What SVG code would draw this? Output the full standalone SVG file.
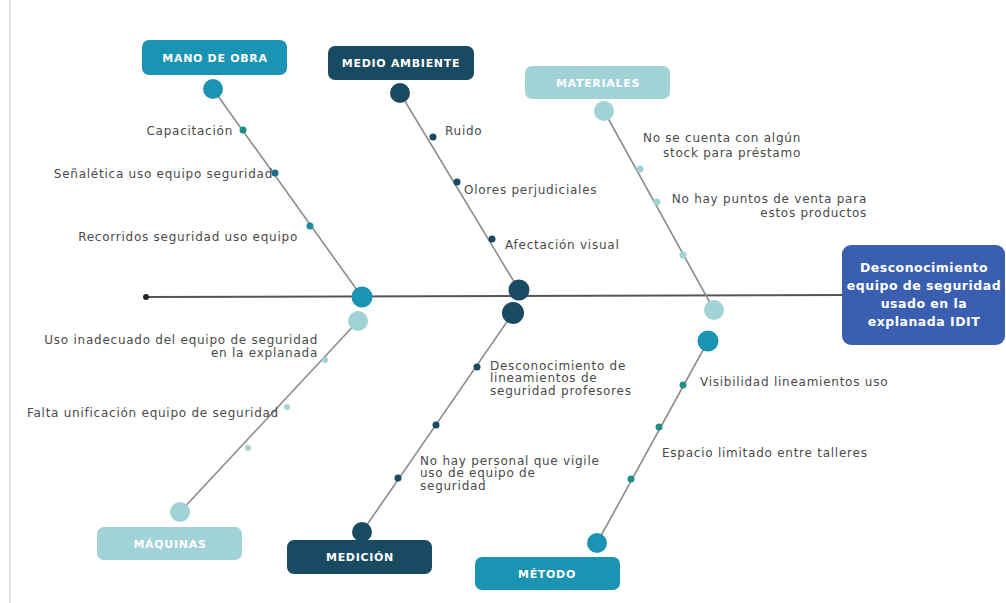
<svg xmlns="http://www.w3.org/2000/svg" width="1006" height="603" viewBox="0 0 1006 603">
<style>
.t{font-family:"DejaVu Sans","Liberation Sans",sans-serif;font-size:12px;letter-spacing:0.75px;fill:#4a4a4a}
.h{font-family:"DejaVu Sans","Liberation Sans",sans-serif;font-size:11px;font-weight:bold;letter-spacing:0.7px;fill:#fff;text-anchor:middle}
.e{font-family:"DejaVu Sans","Liberation Sans",sans-serif;font-size:12.5px;font-weight:bold;letter-spacing:0.5px;fill:#fff;text-anchor:middle}
.br{stroke:#8c8c8c;stroke-width:1.6;fill:none}
.r{text-anchor:end}
.teal{fill:#1a94b2}
.navy{fill:#184a62}
.lt{fill:#a1d2d5}
</style>
<rect width="1006" height="603" fill="#fff"/>
<line x1="10" y1="0" x2="10" y2="603" stroke="#e6e6e6" stroke-width="2"/>
<g id="connectors">
<line x1="146" y1="297" x2="845" y2="295" stroke="#555" stroke-width="2"/>
<circle cx="146" cy="297" r="3" fill="#222"/>
<line class="br" x1="213" y1="89" x2="362" y2="297"/>
<line class="br" x1="400" y1="93" x2="519" y2="290"/>
<line class="br" x1="604" y1="111" x2="714" y2="310"/>
<line class="br" x1="358" y1="321" x2="180" y2="512"/>
<line class="br" x1="513" y1="313" x2="362" y2="532"/>
<line class="br" x1="708" y1="341" x2="597" y2="543"/>
</g>
<g id="effect">
<rect x="842" y="245" width="163" height="100" rx="9" fill="#3b5fb0"/>
<text class="e" x="924" y="272">Desconocimiento</text>
<text class="e" x="924" y="290">equipo de seguridad</text>
<text class="e" x="924" y="308">usado en la</text>
<text class="e" x="924" y="326">explanada IDIT</text>
</g>
<g id="mano-de-obra">
<rect x="142" y="40" width="145" height="35" rx="7" class="teal"/>
<text class="h" x="215" y="62">MANO DE OBRA</text>
<circle cx="213" cy="89" r="10" class="teal"/>
<circle cx="362" cy="297" r="10.5" class="teal"/>
<circle cx="243" cy="130" r="3.5" fill="#1e8f86"/>
<circle cx="275" cy="173" r="3.5" fill="#1b6e8e"/>
<circle cx="310" cy="226" r="3.5" fill="#1e8f96"/>
<text class="t r" x="233" y="135">Capacitación</text>
<text class="t r" x="273" y="178">Señalética uso equipo seguridad</text>
<text class="t r" x="298" y="241">Recorridos seguridad uso equipo</text>
</g>
<g id="medio-ambiente">
<rect x="328" y="46" width="146" height="34" rx="7" class="navy"/>
<text class="h" x="401" y="67">MEDIO AMBIENTE</text>
<circle cx="400" cy="93" r="10" class="navy"/>
<circle cx="519" cy="290" r="10.5" class="navy"/>
<circle cx="433" cy="137" r="3.5" class="navy"/>
<circle cx="457" cy="182" r="3.5" class="navy"/>
<circle cx="492" cy="239" r="3.5" class="navy"/>
<text class="t" x="445" y="135">Ruido</text>
<text class="t" x="464" y="194">Olores perjudiciales</text>
<text class="t" x="505" y="249">Afectación visual</text>
</g>
<g id="materiales">
<rect x="525" y="66" width="145" height="33" rx="7" class="lt"/>
<text class="h" x="598" y="87">MATERIALES</text>
<circle cx="604" cy="111" r="10" class="lt"/>
<circle cx="714" cy="310" r="10" class="lt"/>
<circle cx="640" cy="169" r="3.5" class="lt"/>
<circle cx="657" cy="202" r="3.5" class="lt"/>
<circle cx="683" cy="255" r="3.5" class="lt"/>
<text class="t r" x="801" y="142">No se cuenta con algún</text>
<text class="t r" x="801" y="157">stock para préstamo</text>
<text class="t r" x="867" y="203">No hay puntos de  venta para</text>
<text class="t r" x="867" y="217">estos productos</text>
</g>
<g id="maquinas">
<circle cx="358" cy="321" r="10" class="lt"/>
<circle cx="180" cy="512" r="10" class="lt"/>
<rect x="97" y="527" width="145" height="33" rx="7" class="lt"/>
<text class="h" x="170" y="548">MÁQUINAS</text>
<circle cx="325" cy="360" r="3" class="lt"/>
<circle cx="287" cy="407" r="3" class="lt"/>
<circle cx="248" cy="448" r="3" class="lt"/>
<text class="t r" x="318" y="344">Uso inadecuado del equipo de seguridad</text>
<text class="t r" x="318" y="357">en la explanada</text>
<text class="t r" x="279" y="417">Falta unificación equipo de seguridad</text>
</g>
<g id="medicion">
<circle cx="513" cy="313" r="11" class="navy"/>
<circle cx="362" cy="532" r="10" class="navy"/>
<rect x="287" y="540" width="145" height="34" rx="7" class="navy"/>
<text class="h" x="360" y="561">MEDICIÓN</text>
<circle cx="477" cy="367" r="3.5" class="navy"/>
<circle cx="436" cy="425" r="3.5" class="navy"/>
<circle cx="398" cy="478" r="3.5" class="navy"/>
<text class="t" x="490" y="370">Desconocimiento de</text>
<text class="t" x="490" y="382">lineamientos de</text>
<text class="t" x="490" y="395">seguridad profesores</text>
<text class="t" x="420" y="465">No hay personal que vigile</text>
<text class="t" x="420" y="477">uso de equipo de</text>
<text class="t" x="420" y="490">seguridad</text>
</g>
<g id="metodo">
<circle cx="708" cy="341" r="10.5" class="teal"/>
<circle cx="597" cy="543" r="10" class="teal"/>
<rect x="475" y="557" width="145" height="33" rx="7" class="teal"/>
<text class="h" x="547" y="578">MÉTODO</text>
<circle cx="683" cy="385" r="3.5" fill="#1e8f86"/>
<circle cx="659" cy="427" r="3.5" fill="#1e8f86"/>
<circle cx="631" cy="479" r="3.5" fill="#1e8f86"/>
<text class="t" x="700" y="386">Visibilidad lineamientos uso</text>
<text class="t" x="662" y="457">Espacio limitado entre talleres</text>
</g>
</svg>
